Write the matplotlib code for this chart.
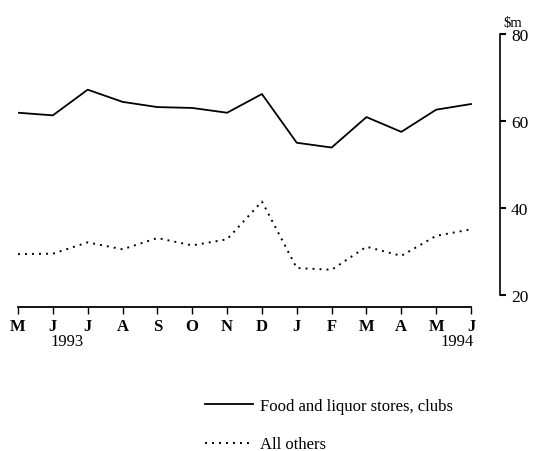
import matplotlib
matplotlib.use("Agg")
from matplotlib import pyplot as plt

months = ["M", "J", "J", "A", "S", "O", "N", "D", "J", "F", "M", "A", "M", "J"]
food_liquor = [61.9, 61.3, 67.2, 64.4, 63.2, 63.0, 61.9, 66.2, 55.0, 53.9, 60.9, 57.5, 62.6, 63.9]
all_others = [29.4, 29.5, 32.1, 30.5, 33.1, 31.4, 32.8, 41.5, 26.2, 25.8, 31.1, 29.0, 33.6, 35.1]
yticks = [20, 40, 60, 80]

plt.rcParams['font.family'] = ['Liberation Serif', 'DejaVu Serif']

fig = plt.figure(figsize=(5.33, 4.52), dpi=100)
W, H = 533.0, 452.0
# pixel layout: x 0 -> 18px, right spine at 500px; y 80 -> 35px, 20 -> 296px
ax = fig.add_axes([18 / W, 1 - 296 / H, (500 - 18) / W, (296 - 35) / H])

x = list(range(len(months)))
l1, = ax.plot(x, food_liquor, color="black", lw=1.3)
l2, = ax.plot(x, all_others, color="black", lw=1.4, linestyle=(0, (1, 2.6)))

step = (471 - 18) / 13.0
ax.set_xlim(0, (500 - 18) / step)
ax.set_ylim(20, 80)

ax.spines['top'].set_visible(False)
ax.spines['left'].set_visible(False)
ax.spines['right'].set_linewidth(1.2)
ax.spines['bottom'].set_linewidth(1.3)
ax.spines['bottom'].set_bounds(0, 13)
ax.spines['bottom'].set_position(('outward', 12 * 72 / 100))

ax.yaxis.tick_right()
ax.set_yticks(yticks)
ax.set_yticklabels([str(v) for v in yticks], fontsize=12.5)
ax.tick_params(axis='y', direction='out', length=4, width=1.5, pad=4)

ax.set_xticks(x)
ax.set_xticklabels(months, fontsize=12, fontweight='bold')
ax.tick_params(axis='x', direction='out', length=5, width=1.0, pad=3)

fig.text(513 / W, 1 - 23 / H, "$m", fontsize=10.5, ha='center', va='center')
fig.text(50 / W, 1 - 342 / H, "1993", fontsize=12, ha='left', va='center')
fig.text(474 / W, 1 - 342 / H, "1994", fontsize=12, ha='right', va='center')

fig.legend([l1, l2], ["Food and liquor stores, clubs", "All others"],
           loc='upper left', bbox_to_anchor=(195 / W, 1 - 389 / H),
           frameon=False, fontsize=12, handlelength=2.9, handletextpad=0.4,
           labelspacing=1.35, borderaxespad=0.2)

fig.savefig("out.png", dpi=100)
